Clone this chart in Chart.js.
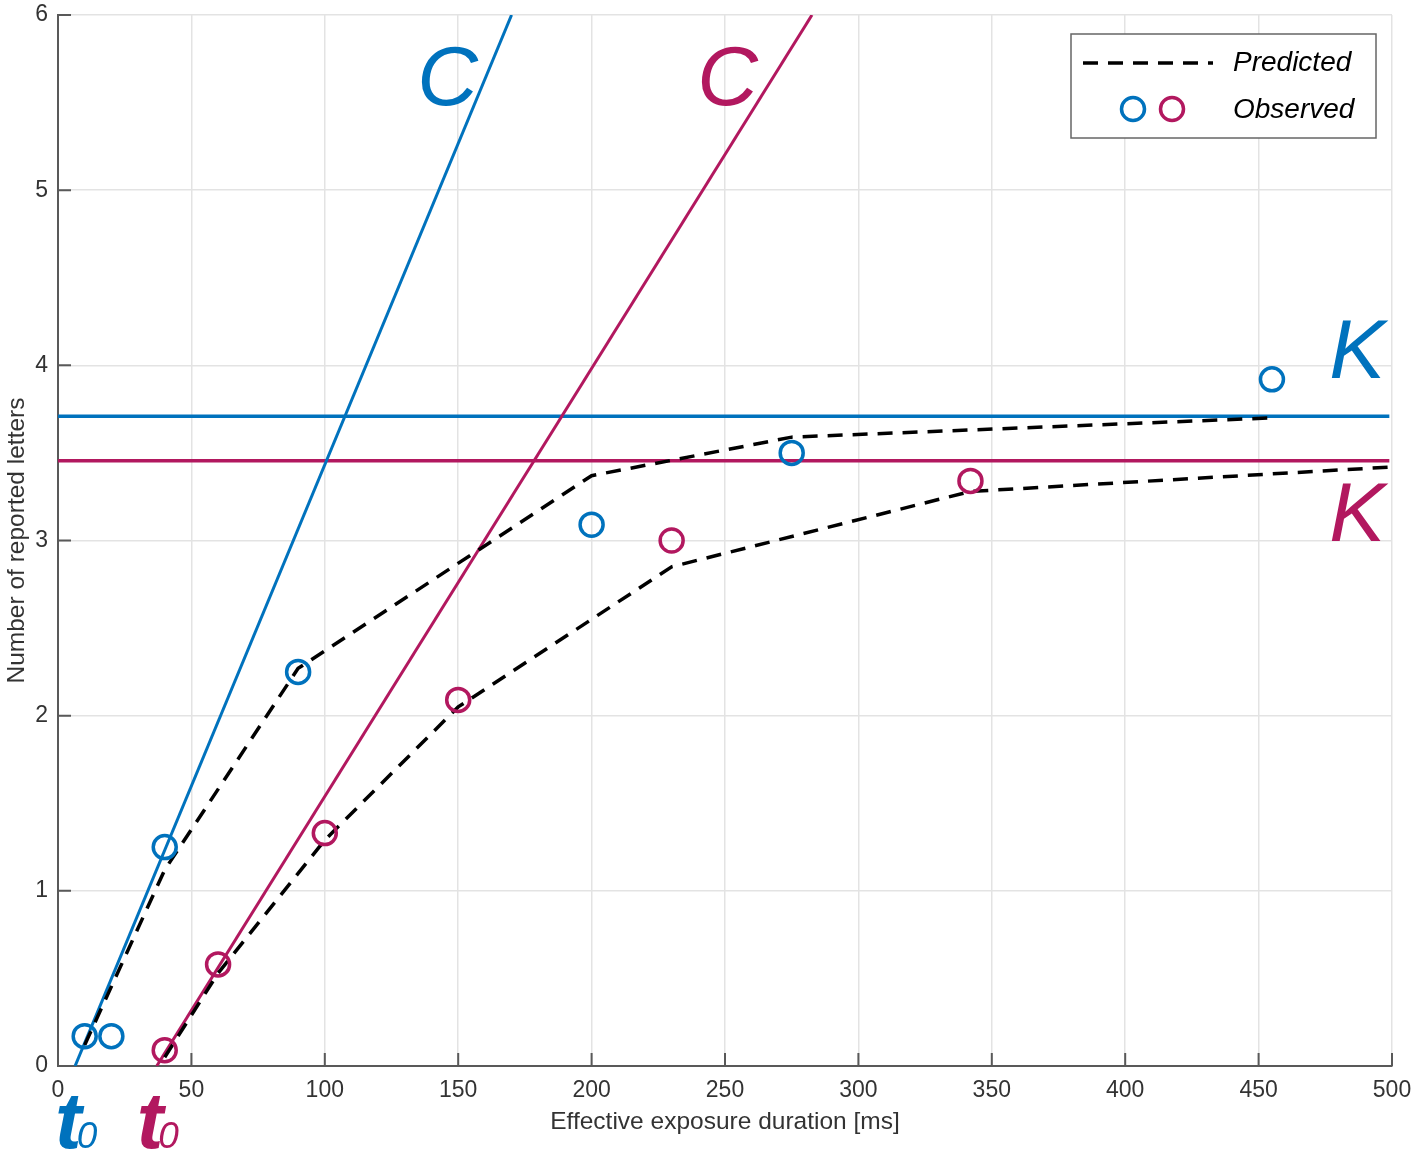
<!doctype html>
<html lang="en">
<head>
<meta charset="utf-8">
<title>Reported letters vs exposure duration</title>
<style>
  * { margin: 0; padding: 0; }
  body { background: #fff; }
  canvas { display: block; }
</style>
</head>
<body>
<canvas id="myChart" width="1418" height="1156" style="width:1418px;height:1156px"></canvas>
<script src="https://cdn.jsdelivr.net/npm/chart.js/dist/chart.umd.min.js"></script>
<script>
const BLUE = '#0072BD';
const MAGENTA = '#B2185F';
const FONT = '"Liberation Sans", Arial, sans-serif';

// observed scores
const blueObsX = [10, 20, 40, 90, 200, 275, 455];
const blueObsY = [0.17, 0.17, 1.25, 2.25, 3.09, 3.50, 3.92];
const magObsX = [40, 60, 100, 150, 230, 342];
const magObsY = [0.09, 0.58, 1.33, 2.09, 3.00, 3.34];

// model predictions (dashed)
const bluePredX = [10, 40, 90, 200, 275, 455];
const bluePredY = [0.12, 1.12, 2.27, 3.37, 3.59, 3.70];
const magPredX = [40, 60, 100, 150, 230, 342, 500];
const magPredY = [0.05, 0.53, 1.29, 2.05, 2.85, 3.28, 3.42];

// processing speed C: from t0 up to the top of the axis
const blueT0 = 6.4;
const magT0 = 37;
const blueCX = [blueT0, 170];
const magCX = [magT0, 282.6];
const cY = [0, 6];

// storage capacity K
const kX = [0, 499];
const blueK = 3.71;
const magK = 3.455;

const xTicks = [0, 50, 100, 150, 200, 250, 300, 350, 400, 450, 500];
const yTicks = [0, 1, 2, 3, 4, 5, 6];

const pts = (xs, ys) => xs.map((x, i) => ({x: x, y: ys[i]}));
const flat = (xs, v) => xs.map(x => ({x: x, y: v}));

const observed = (data, color) => ({
  type: 'scatter',
  data: data,
  showLine: false,
  pointRadius: 11.5,
  pointHoverRadius: 11.5,
  pointBorderWidth: 3.5,
  pointBorderColor: color,
  pointBackgroundColor: 'rgba(0,0,0,0)'
});
const line = (data, color, width, dash) => ({
  type: 'line',
  data: data,
  borderColor: color,
  borderWidth: width,
  borderDash: dash || [],
  pointRadius: 0,
  tension: 0,
  fill: false
});

// inward tick marks, text labels and the legend box
const decorations = {
  id: 'decorations',
  beforeDatasetsDraw(chart) {
    const {ctx, chartArea: a, scales: {x, y}} = chart;
    ctx.save();
    ctx.strokeStyle = '#595959';
    ctx.lineWidth = 2;
    ctx.beginPath();
    xTicks.forEach(v => {
      const px = x.getPixelForValue(v);
      ctx.moveTo(px, a.bottom);
      ctx.lineTo(px, a.bottom - 13);
    });
    yTicks.forEach(v => {
      const py = y.getPixelForValue(v);
      ctx.moveTo(a.left, py);
      ctx.lineTo(a.left + 13, py);
    });
    ctx.stroke();
    ctx.restore();
  },
  afterDraw(chart) {
    const {ctx, chartArea: a, scales: {x, y}} = chart;
    ctx.save();

    // C and K labels
    ctx.font = 'italic 84px ' + FONT;
    ctx.textAlign = 'center';
    ctx.textBaseline = 'middle';
    ctx.fillStyle = BLUE;
    ctx.fillText('C', x.getPixelForValue(146), y.getPixelForValue(5.62));
    ctx.fillText('K', x.getPixelForValue(487), y.getPixelForValue(4.06));
    ctx.fillStyle = MAGENTA;
    ctx.fillText('C', x.getPixelForValue(251), y.getPixelForValue(5.62));
    ctx.fillText('K', x.getPixelForValue(487), y.getPixelForValue(3.13));

    // t0 labels under the axis
    ctx.textAlign = 'left';
    ctx.textBaseline = 'alphabetic';
    [[blueT0, BLUE], [magT0, MAGENTA]].forEach(([t0, color]) => {
      const left = x.getPixelForValue(t0) - 20;
      const base = a.bottom + 82;
      ctx.fillStyle = color;
      ctx.font = 'italic bold 80px ' + FONT;
      ctx.fillText('t', left, base);
      const w = ctx.measureText('t').width;
      ctx.font = 'italic 37px ' + FONT;
      ctx.fillText('0', left + w - 5, base);
    });

    // legend
    const bx = a.right - 321, by = a.top + 19;
    ctx.fillStyle = '#fff';
    ctx.fillRect(bx, by, 305, 104);
    ctx.strokeStyle = '#666';
    ctx.lineWidth = 1.5;
    ctx.strokeRect(bx, by, 305, 104);

    ctx.strokeStyle = '#000';
    ctx.lineWidth = 3.5;
    ctx.setLineDash([15, 10]);
    ctx.beginPath();
    ctx.moveTo(a.right - 309, a.top + 48);
    ctx.lineTo(a.right - 179, a.top + 48);
    ctx.stroke();
    ctx.setLineDash([]);

    [[a.right - 259, BLUE], [a.right - 220, MAGENTA]].forEach(([cx, color]) => {
      ctx.strokeStyle = color;
      ctx.beginPath();
      ctx.arc(cx, a.top + 94, 11.5, 0, Math.PI * 2);
      ctx.stroke();
    });

    ctx.fillStyle = '#000';
    ctx.font = 'italic 28px ' + FONT;
    ctx.textBaseline = 'middle';
    ctx.fillText('Predicted', a.right - 159, a.top + 48);
    ctx.fillText('Observed', a.right - 159, a.top + 95);
    ctx.restore();
  }
};

const data = {
  datasets: [
    observed(pts(blueObsX, blueObsY), BLUE),
    observed(pts(magObsX, magObsY), MAGENTA),
    line(pts(bluePredX, bluePredY), '#000', 3.5, [15, 10]),
    line(pts(magPredX, magPredY), '#000', 3.5, [15, 10]),
    line(pts(blueCX, cY), BLUE, 3),
    line(pts(magCX, cY), MAGENTA, 3),
    line(flat(kX, blueK), BLUE, 3.5),
    line(flat(kX, magK), MAGENTA, 3.5)
  ]
};

const config = {
  type: 'scatter',
  data,
  options: {
    responsive: false,
    animation: false,
    events: [],
    layout: { padding: { top: 14, right: 26, left: 0, bottom: 0 } },
    plugins: {
      legend: { display: false },
      tooltip: { enabled: false }
    },
    scales: {
      x: {
        type: 'linear',
        min: 0,
        max: 500,
        afterFit: s => {
          s.height = 90;
          s.paddingLeft = 0;
          s.paddingRight = 0;
        },
        afterBuildTicks: s => { s.ticks = xTicks.map(v => ({value: v})); },
        ticks: { font: { family: FONT, size: 23 }, color: '#333', padding: 11 },
        grid: { color: '#e3e3e3', lineWidth: 1.5, drawTicks: false },
        border: { color: '#595959', width: 2 },
        title: {
          display: true,
          text: 'Effective exposure duration [ms]',
          font: { family: FONT, size: 24.5 },
          color: '#333',
          padding: { top: 4, bottom: 19 }
        }
      },
      y: {
        type: 'linear',
        min: 0,
        max: 6,
        afterFit: s => {
          s.width = 58;
          s.paddingTop = 0;
          s.paddingBottom = 0;
        },
        afterBuildTicks: s => { s.ticks = yTicks.map(v => ({value: v})); },
        ticks: { font: { family: FONT, size: 23 }, color: '#333', padding: 10 },
        grid: { color: '#e3e3e3', lineWidth: 1.5, drawTicks: false },
        border: { color: '#595959', width: 2 },
        title: {
          display: true,
          text: 'Number of reported letters',
          font: { family: FONT, size: 24.5 },
          color: '#333',
          padding: { top: 3, bottom: 4 }
        }
      }
    }
  },
  plugins: [decorations]
};

const myChart = new Chart(document.getElementById('myChart'), config);
</script>
</body>
</html>
